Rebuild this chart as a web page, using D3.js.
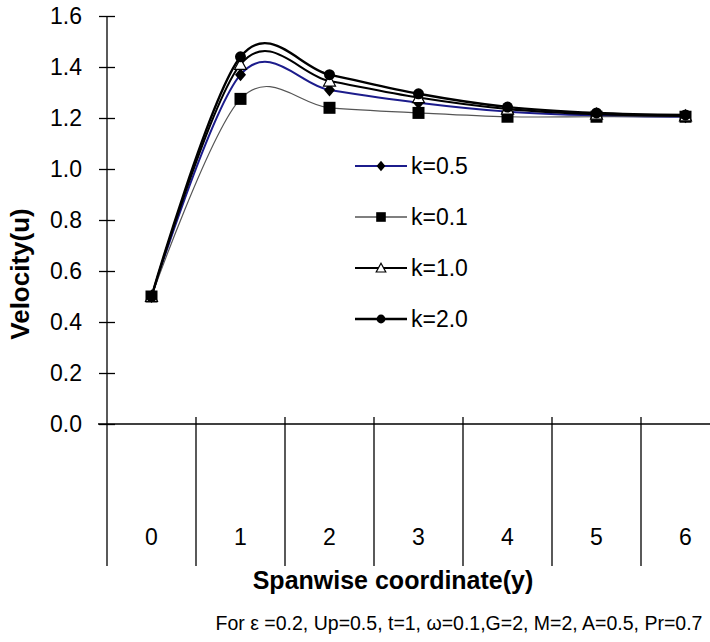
<!DOCTYPE html>
<html>
<head>
<meta charset="utf-8">
<script src="https://cdn.jsdelivr.net/npm/d3@7/dist/d3.min.js"></script>
<style>
  html, body { margin: 0; padding: 0; background: #fff; }
  svg { display: block; font-family: "Liberation Sans", Arial, sans-serif; }
</style>
</head>
<body>
<svg id="chart" width="710" height="642"></svg>
<script>
// Spanwise coordinate categories
const categories = [0, 1, 2, 3, 4, 5, 6];

// Velocity profiles for each k
const k05 = [0.50, 1.37, 1.31, 1.26, 1.225, 1.21, 1.205];
const k01 = [0.50, 1.275, 1.24, 1.22, 1.205, 1.205, 1.205];
const k10 = [0.50, 1.41, 1.345, 1.28, 1.235, 1.215, 1.208];
const k20 = [0.50, 1.44, 1.37, 1.295, 1.243, 1.22, 1.212];

const seriesNames = ["k=0.5", "k=0.1", "k=1.0", "k=2.0"];
const yTicks = [0.0, 0.2, 0.4, 0.6, 0.8, 1.0, 1.2, 1.4, 1.6];

const series = [
  { name: seriesNames[0], values: k05, stroke: "#1c1c8c", width: 2,   marker: "diamond" },
  { name: seriesNames[1], values: k01, stroke: "#555555", width: 1.2, marker: "square" },
  { name: seriesNames[2], values: k10, stroke: "#000000", width: 2,   marker: "triangle" },
  { name: seriesNames[3], values: k20, stroke: "#000000", width: 2.4, marker: "circle" }
];

const svg = d3.select("#chart");
const plotLeft = 107, plotTop = 16, plotBottom = 424, catBottom = 566;

const x = d3.scaleBand().domain(categories).range([plotLeft, plotLeft + 7 * 89]).paddingInner(0).paddingOuter(0);
const y = d3.scaleLinear().domain([0, 1.6]).range([plotBottom, plotTop]);
const cx = c => x(c) + x.bandwidth() / 2;

// Value axis with ticks crossing the axis line
const yAxis = d3.axisLeft(y).tickValues(yTicks).tickFormat(d3.format(".1f"))
  .tickSizeInner(8).tickSizeOuter(0).tickPadding(17);
const gy = svg.append("g").attr("transform", `translate(${plotLeft},0)`).call(yAxis);
gy.select(".domain").remove();
gy.selectAll(".tick line").attr("x1", -8).attr("x2", 8).attr("stroke", "#000").attr("stroke-width", 1.3);
gy.selectAll(".tick text").attr("font-size", 23).attr("fill", "#000")
  .attr("font-family", "Liberation Sans, Arial, sans-serif");
svg.append("line").attr("x1", plotLeft).attr("x2", plotLeft).attr("y1", plotTop).attr("y2", catBottom)
  .attr("stroke", "#000").attr("stroke-width", 1.3);

// Category axis: baseline at zero, band dividers hanging below
svg.append("line").attr("x1", plotLeft - 9).attr("x2", 710).attr("y1", y(0)).attr("y2", y(0))
  .attr("stroke", "#000").attr("stroke-width", 1.3);
const gx = svg.append("g");
gx.selectAll("line.div").data(categories.slice(1)).join("line").attr("class", "div")
  .attr("x1", d => x(d)).attr("x2", d => x(d)).attr("y1", y(0) - 7).attr("y2", catBottom)
  .attr("stroke", "#000").attr("stroke-width", 1.3);
gx.selectAll("text").data(categories).join("text")
  .attr("x", cx).attr("y", 545).attr("text-anchor", "middle")
  .attr("font-size", 23).text(d => d);

// Axis titles and parameter note
svg.append("text").attr("x", 393).attr("y", 589).attr("text-anchor", "middle")
  .attr("font-size", 25).attr("font-weight", "bold").text("Spanwise coordinate(y)");
svg.append("text").attr("transform", "translate(29,274) rotate(-90)").attr("text-anchor", "middle")
  .attr("font-size", 26).attr("font-weight", "bold").text("Velocity(u)");
svg.append("text").attr("x", 459).attr("y", 630).attr("text-anchor", "middle")
  .attr("font-size", 19.5).text("For \u03b5 =0.2, Up=0.5, t=1, \u03c9=0.1,G=2, M=2, A=0.5, Pr=0.7");

// Smoothed series lines
const line = d3.line().x((d, i) => cx(categories[i])).y(d => y(d)).curve(d3.curveCardinal.tension(0));
svg.append("g").selectAll("path").data(series).join("path")
  .attr("d", s => line(s.values)).attr("fill", "none")
  .attr("stroke", s => s.stroke).attr("stroke-width", s => s.width);

function drawMarker(g, type, px, py, scale) {
  const s = scale;
  if (type === "diamond") {
    g.append("path").attr("d", `M${px},${py - 6.5 * s}L${px + 5.5 * s},${py}L${px},${py + 6.5 * s}L${px - 5.5 * s},${py}Z`).attr("fill", "#000");
  } else if (type === "square") {
    g.append("rect").attr("x", px - 6 * s).attr("y", py - 6 * s).attr("width", 12 * s).attr("height", 12 * s).attr("fill", "#000");
  } else if (type === "triangle") {
    g.append("path").attr("d", `M${px},${py - 6 * s}L${px + 6 * s},${py + 5 * s}L${px - 6 * s},${py + 5 * s}Z`)
      .attr("fill", "#fff").attr("stroke", "#000").attr("stroke-width", 1.2);
  } else {
    g.append("circle").attr("cx", px).attr("cy", py).attr("r", 5.5 * s).attr("fill", "#000");
  }
}

// Data markers
const gm = svg.append("g");
series.forEach(s => {
  s.values.forEach((v, i) => drawMarker(gm, s.marker, cx(categories[i]), y(v), 1));
});

// Legend
const legend = svg.append("g");
const legendRows = [166, 217, 268, 319];
series.forEach((s, i) => {
  const ly = legendRows[i];
  legend.append("line").attr("x1", 355).attr("x2", 407).attr("y1", ly).attr("y2", ly)
    .attr("stroke", s.stroke === "#555555" ? "#000" : s.stroke).attr("stroke-width", s.width);
  drawMarker(legend, s.marker, 381, ly, 0.8);
  legend.append("text").attr("x", 411).attr("y", ly + 8).attr("font-size", 23).text(s.name);
});
</script>
</body>
</html>
